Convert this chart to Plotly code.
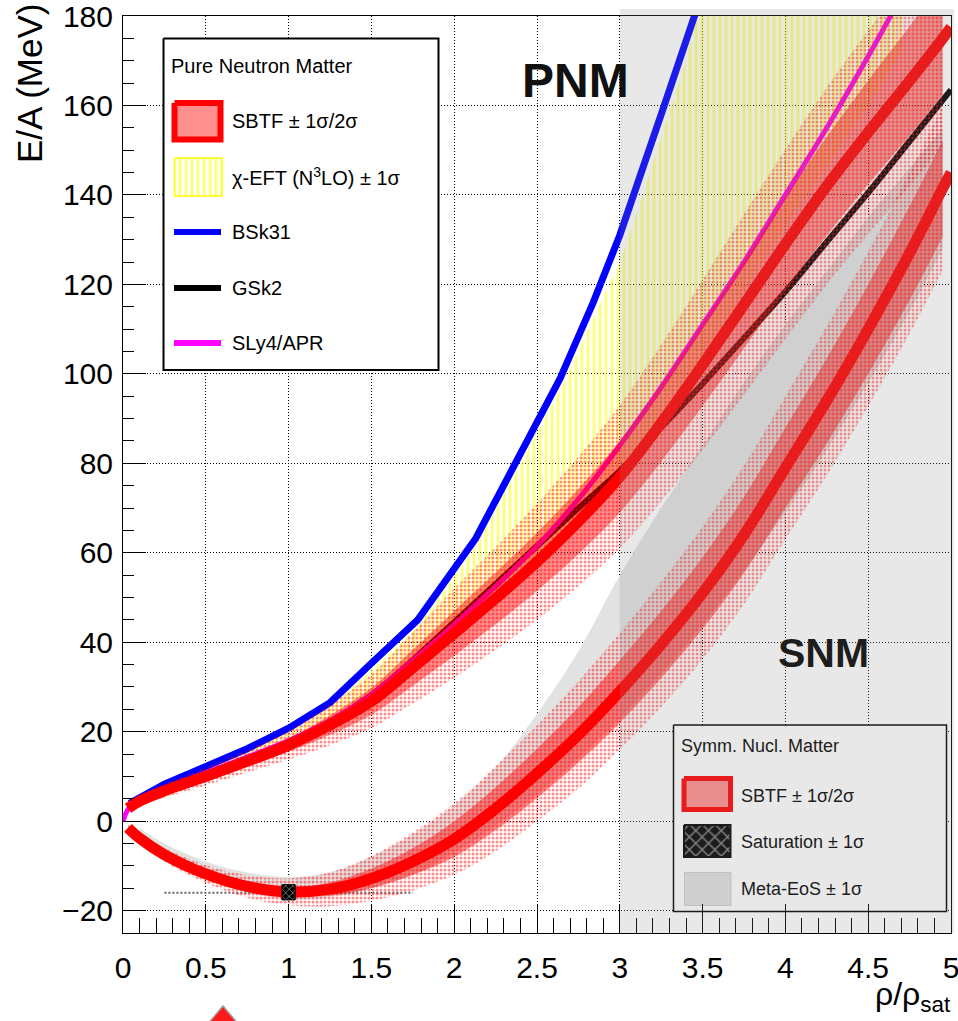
import plotly.graph_objects as go

# ---------------- data ----------------
# SBTF pure neutron matter: central curve and band half-widths (bands stop at 4.95)
pnm_x = [0.03, 0.1, 0.25, 0.5, 0.75, 1.0, 1.25, 1.5, 1.75, 2.0, 2.25, 2.5, 2.75,
         3.0, 3.25, 3.5, 3.75, 4.0, 4.25, 4.5, 4.75, 4.95, 5.0]
pnm_sbtf = [2.9, 4.5, 6.8, 10.0, 13.4, 17.0, 21.5, 26.8, 34.3, 42.0, 49.8, 58.0, 67.0,
            77.0, 89.0, 102.0, 115.5, 129.0, 142.0, 154.0, 165.5, 175.0, 177.5]
pnm_sig1 = [0.4, 0.5, 0.7, 0.9, 1.2, 1.5, 2.2, 3.0, 4.0, 5.0, 5.8, 6.5, 7.3, 8.0,
            8.6, 9.2, 9.8, 10.4, 11.0, 11.6, 12.2, 12.6]
pnm_sig2 = [0.9, 1.1, 1.5, 2.0, 2.5, 3.2, 4.5, 6.0, 8.0, 10.0, 11.5, 13.0, 14.5, 16.0,
            17.5, 19.0, 20.2, 21.2, 22.0, 22.8, 23.5, 24.2]

# SBTF symmetric nuclear matter
snm_x = [0.03, 0.1, 0.25, 0.5, 0.75, 1.0, 1.25, 1.5, 1.75, 2.0, 2.25, 2.5, 2.75,
         3.0, 3.25, 3.5, 3.75, 4.0, 4.25, 4.5, 4.75, 4.95, 5.0]
snm_sbtf = [-1.5, -3.8, -7.5, -11.8, -14.6, -15.8, -15.2, -12.8, -9.0, -4.0, 2.8, 10.7,
            19.3, 29.0, 39.5, 51.0, 64.0, 79.0, 94.0, 110.0, 127.0, 141.5, 145.0]
snm_sig1 = [0.3, 0.4, 0.5, 0.6, 0.8, 1.0, 1.5, 2.2, 3.0, 4.0, 4.8, 5.5, 6.2, 7.0, 7.5,
            8.0, 8.5, 9.0, 9.5, 10.0, 10.5, 10.8]
snm_sig2 = [0.8, 1.0, 1.5, 2.0, 2.5, 3.0, 3.8, 5.0, 6.5, 8.0, 9.5, 10.7, 12.0, 13.0,
            14.0, 14.8, 15.5, 16.0, 16.7, 17.3, 18.0, 18.4]

# Meta-EoS (SNM) +- 1 sigma envelope
meta_x = [0.1, 0.25, 0.5, 0.75, 1.0, 1.25, 1.5, 1.75, 2.0, 2.25, 2.5, 2.75, 3.0,
          3.25, 3.5, 3.75, 4.0, 4.25, 4.5, 4.75, 4.95]
meta_lo = [-4.0, -8.5, -13.0, -16.0, -17.5, -17.0, -15.0, -12.0, -7.0, -1.0, 6.0, 14.0,
           23.0, 33.0, 44.0, 56.0, 69.0, 83.0, 98.0, 114.0, 128.0]
meta_hi = [-1.5, -5.0, -9.0, -11.5, -12.5, -11.5, -8.0, -3.0, 3.5, 12.0, 24.0, 38.0,
           55.0, 70.0, 84.0, 98.0, 111.0, 123.0, 135.0, 146.0, 155.0]

# chi-EFT (N3LO) +- 1 sigma, pure neutron matter
eft_x = [0.03, 0.25, 0.5, 0.75, 1.0, 1.25, 1.5, 1.78, 2.13, 2.38, 2.64, 2.84, 3.0,
         3.14, 3.25, 3.4, 3.5, 4.0, 4.5, 4.7]
eft_lo = [2.8, 6.9, 10.3, 13.8, 17.4, 22.0, 27.5, 35.5, 47.0, 55.0, 64.0, 72.0, 78.0,
          85.0, 91.0, 99.0, 104.0, 133.0, 160.0, 172.0]
eft_hi = [3.6, 7.8, 11.6, 15.6, 20.0, 25.5, 33.8, 43.5, 61.5, 78.5, 96.5, 112.5, 125.0,
          140.0, 153.0, 170.0, 185.0, 185.0, 185.0, 185.0]

# functionals
bsk31_x = [0.04, 0.25, 0.5, 0.75, 1.0, 1.25, 1.5, 1.78, 2.13, 2.38, 2.64, 2.84, 3.0, 3.25, 3.46]
bsk31_e = [4.0, 8.3, 12.2, 16.2, 20.8, 26.5, 35.3, 45.0, 63.2, 80.5, 99.0, 116.0, 131.0, 158.0, 181.0]

gsk2_x = [0.05, 0.25, 0.5, 0.75, 1.0, 1.25, 1.5, 1.75, 2.0, 2.25, 2.5, 2.75, 3.0,
          3.25, 3.5, 3.75, 4.0, 4.25, 4.5, 4.75, 5.0]
gsk2_e = [3.4, 7.2, 10.6, 14.1, 17.7, 22.2, 28.2, 36.0, 44.5, 53.0, 61.5, 70.0, 78.3,
          88.0, 97.8, 108.0, 118.4, 129.5, 140.5, 152.0, 163.5]

sly4_x = [0.0, 0.05, 0.25, 0.5, 0.75, 1.0, 1.25, 1.5, 1.75, 2.0, 2.25, 2.5, 2.75, 3.0,
          3.25, 3.5, 3.75, 4.0, 4.25, 4.5, 4.65]
sly4_e = [0.0, 3.6, 7.3, 10.8, 14.3, 18.0, 22.5, 28.3, 36.0, 44.0, 52.5, 61.5, 72.0, 84.0,
          97.0, 111.0, 125.0, 140.0, 155.0, 171.0, 181.0]

# saturation point +- 1 sigma
sat_rho, sat_rho_err = 1.0, 0.04
sat_e, sat_e_err = -15.9, 1.7
sat_ref_x = [0.25, 1.75]
sat_ref_e = [-16.0, -16.0]

x_range = [0.0, 5.0]
y_range = [-25.0, 180.0]
shade_from = 3.0  # high-density region shaded in grey

# ---------------- geometry ----------------
FIG_W, FIG_H = 958, 1021
M_L, M_R, M_T, M_B = 123, 7, 16, 88
PW, PH = FIG_W - M_L - M_R, FIG_H - M_T - M_B


def fx(px):
    return (px - M_L) / PW


def fy(py):
    return (FIG_H - M_B - py) / PH


FONT = "Liberation Sans"
RED = "#ff0000"
SIG1_FILL = "rgba(255,0,0,0.44)"
DOTS = dict(shape=".", fgcolor="rgba(255,0,0,0.9)", bgcolor="rgba(0,0,0,0)",
            size=4, solidity=0.45)
HATCH = dict(shape="|", fgcolor="#ffff00", bgcolor="rgba(0,0,0,0)", size=6, solidity=0.5)

fig = go.Figure()


def band(x, lo, hi, shape="spline", **fillkw):
    fig.add_trace(go.Scatter(x=x, y=lo, mode="lines", line=dict(width=0, shape=shape),
                             showlegend=False, hoverinfo="skip"))
    fig.add_trace(go.Scatter(x=x, y=hi, mode="lines", line=dict(width=0, shape=shape),
                             fill="tonexty", showlegend=False, hoverinfo="skip", **fillkw))


def curve(x, y, color, width, shape="spline"):
    fig.add_trace(go.Scatter(x=x, y=y, mode="lines",
                             line=dict(color=color, width=width, shape=shape),
                             showlegend=False, hoverinfo="skip"))


# Meta-EoS envelope
band(meta_x, meta_lo, meta_hi, fillcolor="rgb(226,226,226)")

# saturation reference line
fig.add_trace(go.Scatter(x=sat_ref_x, y=sat_ref_e, mode="lines",
                         line=dict(color="#666666", width=2, dash="2px,2px"),
                         showlegend=False, hoverinfo="skip"))

# chi-EFT band (vertical hatching)
band(eft_x, eft_lo, eft_hi, shape="linear", fillcolor="rgba(0,0,0,0)", fillpattern=HATCH)

# functionals
curve(bsk31_x, bsk31_e, "#0000ff", 7, shape="linear")
curve(gsk2_x, gsk2_e, "#000000", 6)
curve(sly4_x, sly4_e, "#ff00ff", 5)


# SBTF bands
def sbtf_bands(x, c, s1, s2):
    xb = x[:len(s1)]
    cb = c[:len(s1)]
    band(xb, [a - b for a, b in zip(cb, s2)], [a + b for a, b in zip(cb, s2)],
         fillcolor="rgba(0,0,0,0)", fillpattern=DOTS)
    band(xb, [a - b for a, b in zip(cb, s1)], [a + b for a, b in zip(cb, s1)],
         fillcolor=SIG1_FILL)


sbtf_bands(pnm_x, pnm_sbtf, pnm_sig1, pnm_sig2)
sbtf_bands(snm_x, snm_sbtf, snm_sig1, snm_sig2)

curve(pnm_x, pnm_sbtf, RED, 11)
curve(snm_x, snm_sbtf, RED, 11)

# saturation box
fig.add_trace(go.Scatter(
    x=[sat_rho - sat_rho_err, sat_rho + sat_rho_err, sat_rho + sat_rho_err,
       sat_rho - sat_rho_err, sat_rho - sat_rho_err],
    y=[sat_e - sat_e_err, sat_e - sat_e_err, sat_e + sat_e_err,
       sat_e + sat_e_err, sat_e - sat_e_err],
    mode="lines", fill="toself", fillcolor="black",
    fillpattern=dict(shape="x", fgcolor="white", bgcolor="black", size=5, solidity=0.3),
    line=dict(color="black", width=1), showlegend=False, hoverinfo="skip"))


# ---------------- legends (drawn on an overlay axis in paper units) ----------------
def aux(xs, ys, **kw):
    fig.add_trace(go.Scatter(x=xs, y=ys, xaxis="x2", yaxis="y2", showlegend=False,
                             hoverinfo="skip", **kw))


def box(x0, y0, x1, y1, **kw):
    aux([fx(x0), fx(x1), fx(x1), fx(x0), fx(x0)],
        [fy(y0), fy(y0), fy(y1), fy(y1), fy(y0)], mode="lines", fill="toself", **kw)


def seg(x0, x1, yc, color, width):
    aux([fx(x0), fx(x1)], [fy(yc), fy(yc)], mode="lines",
        line=dict(color=color, width=width))


# legend: pure neutron matter
box(163.5, 38.5, 438.5, 370, fillcolor="white", line=dict(color="black", width=2))
box(174.5, 103, 220.5, 139.5, fillcolor=SIG1_FILL, line=dict(color=RED, width=6))
box(174.5, 158, 222, 196, fillcolor="rgba(0,0,0,0)", fillpattern=HATCH,
    line=dict(color="#ffff00", width=1.5))
seg(174, 221, 232, "#0000ff", 6)
seg(174, 221, 288, "#000000", 6)
seg(174, 221, 343, "#ff00ff", 6)

# legend: symmetric nuclear matter
box(673.5, 725, 946.5, 911.5, fillcolor="white", line=dict(color="black", width=1.5))
box(684, 778.5, 730.5, 809.5, fillcolor=SIG1_FILL, line=dict(color=RED, width=5))
box(684, 825, 730.5, 857, fillcolor="black",
    fillpattern=dict(shape="x", fgcolor="white", bgcolor="black", size=9, solidity=0.3),
    line=dict(color="black", width=2))
box(684.5, 872.5, 731, 905.5, fillcolor="rgb(224,224,224)",
    line=dict(color="#cfcfcf", width=1))

ann = []


def text(px, py, s, size, color="black", anchor="left"):
    ann.append(dict(x=fx(px), y=fy(py), xref="paper", yref="paper", text=s,
                    showarrow=False, xanchor=anchor, yanchor="middle",
                    font=dict(family=FONT, size=size, color=color)))


text(169, 66, "Pure Neutron Matter", 20)
text(230, 121, "SBTF ± 1σ/2σ", 20)
text(230, 177, "χ-EFT (N<sup>3</sup>LO) ± 1σ", 20)
text(230, 232, "BSk31", 20)
text(230, 288, "GSk2", 20)
text(230, 343, "SLy4/APR", 20)

dark = "#1d1d1d"
text(679, 746, "Symm. Nucl. Matter", 18, dark)
text(739, 796, "SBTF ± 1σ/2σ", 18, dark)
text(739, 842, "Saturation ± 1σ", 18, dark)
text(739, 889, "Meta-EoS ± 1σ", 18, dark)

# region labels
ann.append(dict(x=2.73, y=165.5, xref="x", yref="y", text="<b>PNM</b>", showarrow=False,
                font=dict(family=FONT, size=48, color="#111111")))
ann.append(dict(x=4.23, y=37.7, xref="x", yref="y", text="<b>SNM</b>", showarrow=False,
                font=dict(family=FONT, size=41, color=dark)))

# axis titles
ann.append(dict(x=fx(29), y=fy(84), xref="paper", yref="paper", text="E/A (MeV)",
                textangle=-90, showarrow=False, xanchor="center", yanchor="middle",
                font=dict(family=FONT, size=35, color="black")))
ann.append(dict(x=fx(953), y=fy(974), xref="paper", yref="paper",
                text="ρ/ρ<sub>sat</sub>", showarrow=False, xanchor="right", yanchor="top",
                font=dict(family=FONT, size=32, color="black")))

shapes = [
    # grey veil over the high-density region
    dict(type="rect", xref="paper", yref="paper",
         x0=(shade_from - x_range[0]) / (x_range[1] - x_range[0]), x1=1 + 3 / PW,
         y0=0, y1=1 + 7 / PH, fillcolor="rgba(140,140,140,0.2)",
         line=dict(width=0), layer="above"),
    # marker below the axis
    dict(type="path", xref="paper", yref="paper",
         path=f"M {fx(223)},{fy(1006)} L {fx(189)},{fy(1046)} L {fx(257)},{fy(1046)} Z",
         fillcolor="#ff1a1a", line=dict(color="#a0a0a0", width=1.5), layer="above"),
]

axis_common = dict(
    ticks="inside", tickcolor="black", tickwidth=1,
    showline=True, linecolor="black", linewidth=1, mirror=True,
    showgrid=True, gridcolor="#000000", griddash="1px,2px", gridwidth=1,
    zeroline=False, ticklabeloverflow="allow", automargin=False,
    tickfont=dict(family=FONT, size=30, color="black"),
)

fig.update_layout(
    width=FIG_W, height=FIG_H,
    margin=dict(l=M_L, r=M_R, t=M_T, b=M_B, autoexpand=False),
    paper_bgcolor="white", plot_bgcolor="white",
    font=dict(family=FONT),
    showlegend=False, hovermode=False,
    xaxis=dict(range=x_range, tickmode="linear", tick0=0, dtick=0.5, ticklen=29,
               ticklabelstandoff=8,
               minor=dict(ticks="inside", ticklen=15, dtick=0.1, tickcolor="black",
                          showgrid=False),
               **axis_common),
    yaxis=dict(range=y_range, tickmode="linear", tick0=0, dtick=20, ticklen=23,
               ticklabelstandoff=3,
               minor=dict(ticks="inside", ticklen=11, dtick=5, tickcolor="black",
                          showgrid=False),
               **axis_common),
    xaxis2=dict(overlaying="x", range=[0, 1], visible=False, fixedrange=True),
    yaxis2=dict(overlaying="y", range=[0, 1], visible=False, fixedrange=True),
    annotations=ann,
    shapes=shapes,
)

fig.write_html("out.html")
